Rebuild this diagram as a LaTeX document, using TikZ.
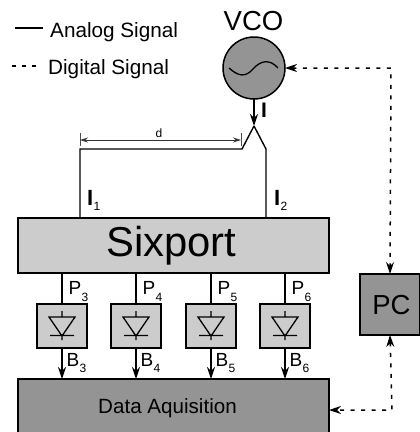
\documentclass[tikz,border=0pt]{standalone}
\usepackage{fontspec}
\setmainfont{Liberation Sans}
\usetikzlibrary{arrows.meta}
\newcommand{\fs}[1]{\fontsize{#1}{#1}\selectfont}
\tikzset{
  x=1pt,y=-1pt,
  tipm/.tip={Stealth[length=12pt,width=8pt,inset=4pt]},
  wire/.style={line width=1.4pt,draw=black},
  arrowwire/.style={wire,-tipm},
  dig/.style={line width=1.5pt,draw=black,dash pattern=on 4pt off 6.5pt},
  blk/.style={draw=black,line width=1.3pt,inner sep=0pt,outer sep=0pt,anchor=north west},
  light/.style={blk,fill=black!20},
  dark/.style={blk,fill=black!42},
  lbl/.style={inner sep=0pt,anchor=base west,text=black},
  diodebox/.style={light,minimum width=50pt,minimum height=44pt},
}
\begin{document}
\begin{tikzpicture}
\useasboundingbox (0,0) rectangle (420,432);
% legend
\coordinate (la) at (15,28); \coordinate (lb) at (43,28);
\draw[line width=1.2pt] (la) -- (lb);
\node[lbl] (tA) at (50,37) {\fs{20.7}Analog Signal};
\coordinate (da) at (12,66); \coordinate (db) at (36,66);
\draw[line width=1.2pt,dash pattern=on 4pt off 6pt] (da) -- (db);
\node[lbl] (tD) at (48,74) {\fs{20.7}Digital Signal};
% VCO
\node[lbl,anchor=base] (tV) at (253.5,30) {\fs{27.5}VCO};
\node[circle,draw=black,line width=1.5pt,fill=black!42,minimum size=62pt,inner sep=0pt,outer sep=0pt] (vco) at (254,68) {};
\draw[line width=1.3pt] (229,68) .. controls (238,76) and (245,78) .. (253,69) .. controls (261,60) and (270,59) .. (278,68);
% boxes
\node[light,minimum width=311pt,minimum height=55pt] (six) at (18,218) {};
\node[lbl,anchor=base] (tS) at (171.5,256) {\fs{41.8}Sixport};
\node[dark,minimum width=311pt,minimum height=60pt] (daq) at (18,379) {};
\node[lbl,anchor=base] (tQ) at (167.5,413) {\fs{20.6}Data Aquisition};
\node[dark,minimum width=60pt,minimum height=61pt] (pc) at (360,274) {};
\node[lbl,anchor=center] (tP) at (391.5,305) {\fs{27.5}PC};
% power split
\coordinate (split) at (254,126);
\coordinate (l1) at (242,149); \coordinate (l2) at (80,149); \coordinate (l3) at (80,218);
\coordinate (r1) at (266,149); \coordinate (r2) at (266,218);
\draw[arrowwire] (vco.south) -- (split);
\draw[wire,line join=miter] (split) -- (l1) -- (l2) -- (l3);
\draw[wire] (split) -- (r1) -- (r2);
\node[lbl] (tI) at (261,117) {\fs{21}\bfseries I};
\node[lbl] (tI1) at (87,205) {\fs{22}\bfseries I};
\node[lbl] (s1) at (93.5,210) {\fs{12}1};
\node[lbl] (tI2) at (274,205) {\fs{22}\bfseries I};
\node[lbl] (s2) at (280.5,210) {\fs{12}2};
% distance d
\coordinate (d1) at (80,140); \coordinate (d2) at (241,140);
\draw[line width=.7pt,draw=black!70] (80,133) -- (80,146) (241,133) -- (241,146);
\draw[line width=.8pt,draw=black!80,{Stealth[length=8pt,width=5pt]}-{Stealth[length=8pt,width=5pt]}] (d1) -- (d2);
\node[lbl,anchor=base] (td) at (159,137) {\fs{12}d};
% detectors
\foreach \x/\n in {62/3,136/4,211/5,285/6}{
  \node[diodebox] (box\n) at (\x-25,304) {};
  \draw[wire] (\x,273) -- (box\n.north);
  \draw[arrowwire] (box\n.south) -- (\x,379);
  \draw[line width=1.3pt,line join=miter] (\x,311) -- (\x,317)
     (\x-13,317) -- (\x+13,317) -- (\x,336) -- cycle
     (\x-12,335.5) -- (\x+12,335.5)
     (\x,335) -- (\x,340);
  \node[lbl] (tp\n) at (\x+6.5,294) {\fs{19}P};
  \node[lbl] (sp\n) at (\x+19.5,301) {\fs{12}\n};
  \node[lbl] (tb\n) at (\x+4.5,366) {\fs{19}B};
  \node[lbl] (sb\n) at (\x+17.5,372.5) {\fs{12}\n};
}
% digital links
\coordinate (corner1) at (391,68);
\coordinate (corner2) at (392,410);
\draw[dig,tipm-tipm] (vco.east) -- (corner1) -- (pc.north);
\draw[dig,tipm-tipm] (pc.south) -- (corner2) -- (daq.east |- corner2);
\end{tikzpicture}
\end{document}
